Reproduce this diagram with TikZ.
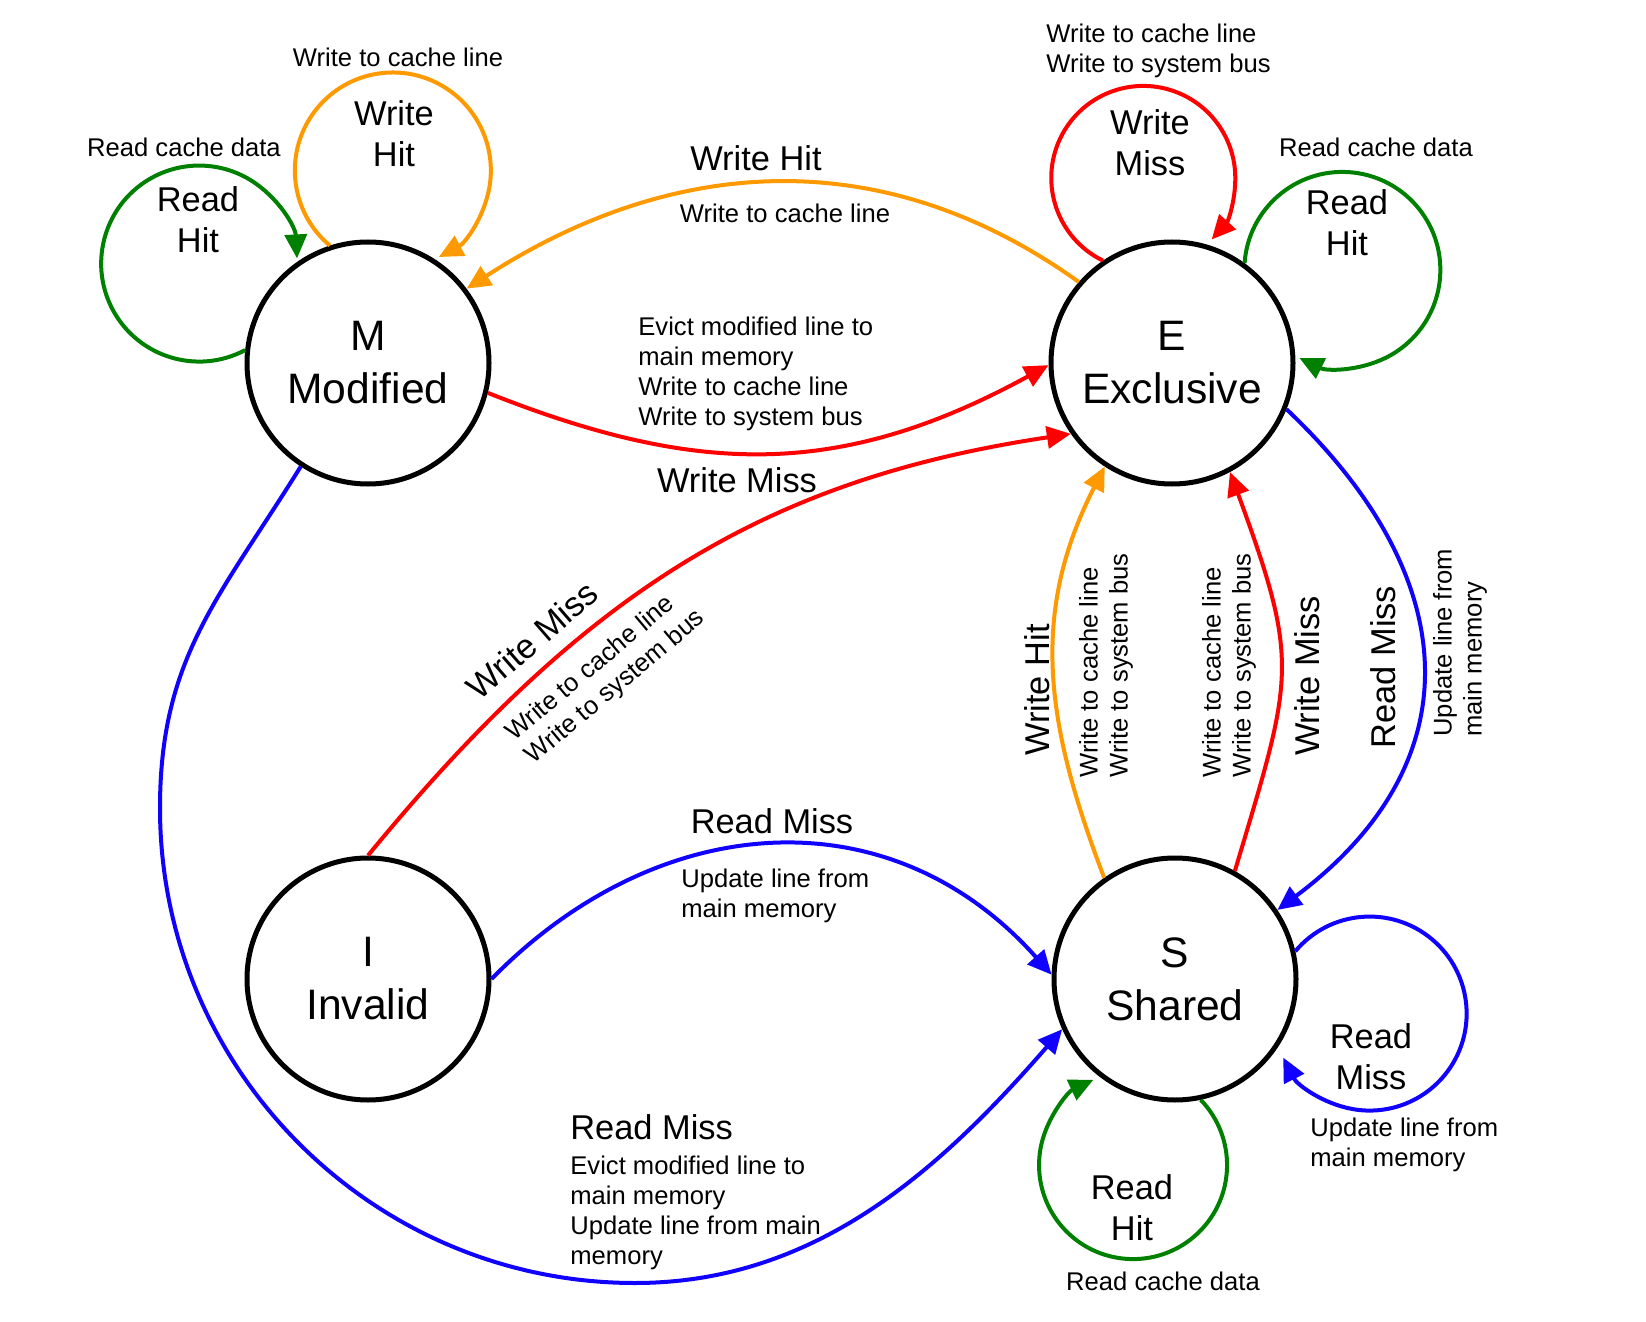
\documentclass[tikz,border=0pt]{standalone}
\usepackage{fontspec}
\setmainfont{Liberation Sans}
\usetikzlibrary{arrows.meta}
\definecolor{hitorange}{RGB}{255,153,0}
\definecolor{missred}{RGB}{255,0,0}
\definecolor{readgreen}{RGB}{0,128,0}
\definecolor{readblue}{RGB}{16,0,255}

\begin{document}
\begin{tikzpicture}[x=0.5pt,y=-0.5pt,
    state/.style={circle,draw,line width=2.5pt,minimum size=121pt,inner sep=0pt,align=center,font=\fontsize{21.3}{26.5}\selectfont},
    flow/.style={line width=2pt,-{Triangle[length=12pt,width=11pt]}},
    act/.style={inner sep=0pt,align=center,font=\fontsize{17.2}{20.5}\selectfont},
    note/.style={inner sep=0pt,align=left,font=\fontsize{12.8}{15}\selectfont}]
    \useasboundingbox (0,0) rectangle (1646,1322);
    %states
    \node[state] (M) at (368,363) {M\\Modified};
    \node[state] (E) at (1172,363) {E\\Exclusive};
    \node[state] (I) at (368,979) {I\\Invalid};
    \node[state] (S) at (1175,979) {S\\Shared};
    %loops on M
    \draw[flow,readgreen] (M.174) arc[start angle=-62,end angle=-357,radius=49pt];
    \node[act] (mrh) at (198,220) {Read\\Hit};
    \node[note] (mrhn) at (184,147) {Read cache data};
    \draw[flow,hitorange] (M.108) arc[start angle=230,end angle=-62,radius=49pt];
    \node[act] (mwh) at (394,134) {Write\\Hit};
    \node[note] (mwhn) at (398,57) {Write to cache line};
    %loops on E
    \draw[flow,missred] (E.124) arc[start angle=244,end angle=-42,radius=46pt];
    \node[act] (ewm) at (1150,143) {Write\\Miss};
    \node[note,anchor=west] (ewmn) at (1046,51) {Write to cache line\\Write to system bus};
    \draw[flow,readgreen] (E.54) arc[start angle=176,end angle=-116,radius=49pt];
    \node[act] (erh) at (1347,223) {Read\\Hit};
    \node[note] (erhn) at (1376,147) {Read cache data};
    %loops on S
    \draw[flow,readblue] (S.13) arc[start angle=140,end angle=-153,radius=48.5pt];
    \node[act] (srm) at (1371,1057) {Read\\Miss};
    \node[note,anchor=west] (srmn) at (1310,1145) {Update line from\\main memory};
    \draw[flow,readgreen] (S.-78) arc[start angle=44,end angle=-245,radius=47pt];
    \node[act] (srh) at (1132,1208) {Read\\Hit};
    \node[note] (srhn) at (1163,1281) {Read cache data};
    %E to M
    \draw[flow,hitorange] (E.139) .. controls (878,138) and (667,159) .. (M.37);
    \node[act] (emh) at (756,158) {Write Hit};
    \node[note] (emhn) at (785,213) {Write to cache line};
    %M to E
    \draw[flow,missred] (M.-14) .. controls (697,476) and (840,479) .. (E.181);
    \node[note,anchor=west] (mewn) at (638,374) {Evict modified line to\\main memory\\Write to cache line\\Write to system bus};
    \node[act] (mew) at (737,480) {Write Miss};
    %I to E
    \draw[flow,missred] (I.north) .. controls (588,587) and (770,479) .. (E.215);
    \node[act,rotate=41] (iew) at (532,640) {Write Miss};
    \node[note,rotate=40] (iewn) at (606,676) {Write to cache line\\Write to system bus};
    %I to S
    \draw[flow,readblue] (I.east) .. controls (658,809) and (890,793) .. (S.178);
    \node[act] (isr) at (772,821) {Read Miss};
    \node[note,anchor=west] (isrn) at (681,896) {Update line from\\main memory};
    %M to S
    \draw[flow,readblue] (M.237) .. controls (219,598) and (160,658) .. (160,808)
        .. controls (160,1070) and (373,1283) .. (635,1283)
        .. controls (815,1283) and (939,1171) .. (S.204);
    \node[act,anchor=west] (msr) at (570,1127) {Read Miss};
    \node[note,anchor=west] (msrn) at (570,1213) {Evict modified line to\\main memory\\Update line from main\\memory};
    %S to E
    \draw[flow,hitorange] (S.125) .. controls (1046,725) and (1029,615) .. (E.237);
    \node[act,rotate=90] (seh) at (1037,690) {Write Hit};
    \node[note,rotate=90,anchor=west] (sehn) at (1106,778) {Write to cache line\\Write to system bus};
    \draw[flow,missred] (S.61) .. controls (1293,676) and (1301,665) .. (E.298);
    \node[note,rotate=90,anchor=west] (sewn) at (1229,778) {Write to cache line\\Write to system bus};
    \node[act,rotate=90] (sew) at (1307,676) {Write Miss};
    %E to S
    \draw[flow,readblue] (E.-22) .. controls (1464,577) and (1475,762) .. (S.34);
    \node[act,rotate=90] (esr) at (1383,667) {Read Miss};
    \node[note,rotate=90,anchor=west] (esrn) at (1460,737) {Update line from\\main memory};
\end{tikzpicture}
\end{document}
